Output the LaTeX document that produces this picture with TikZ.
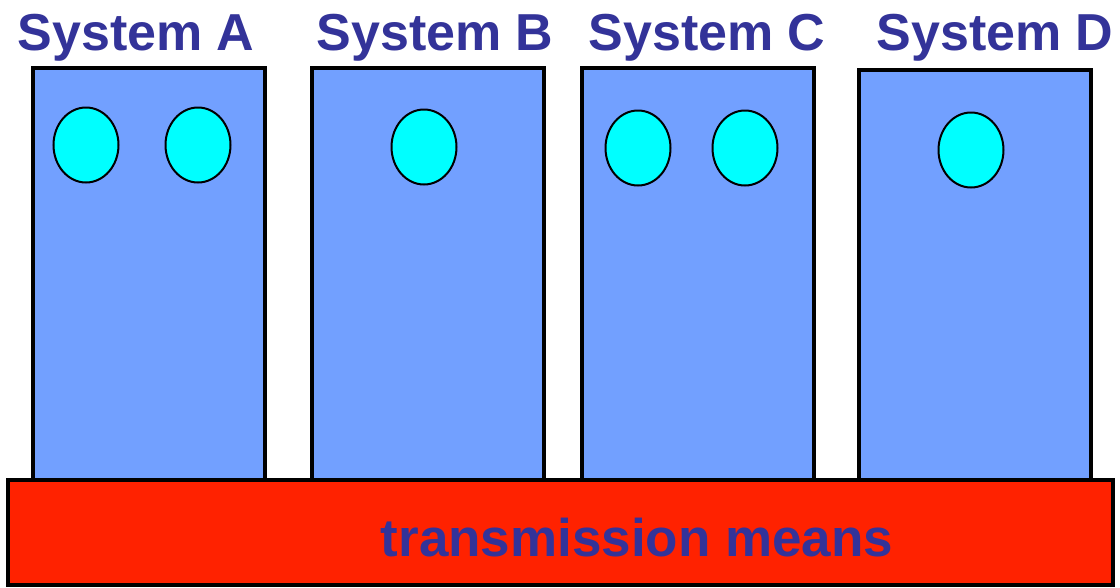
\documentclass[tikz,border=0pt]{standalone}
\usepackage{fontspec}
\setmainfont{Liberation Sans}
\usepackage{xcolor}
\usetikzlibrary{positioning,shapes.geometric}
\definecolor{sysfill}{HTML}{72A0FF}
\definecolor{portfill}{HTML}{00FFFF}
\definecolor{busfill}{HTML}{FF2200}
\definecolor{labink}{HTML}{333399}
\tikzset{
  sysbox/.style={draw=black,line width=4pt,fill=sysfill,anchor=north west,
    minimum width=232pt,minimum height=412pt,inner sep=0pt,outer sep=0pt},
  port/.style={ellipse,draw=black,line width=2pt,fill=portfill,
    minimum width=65pt,minimum height=75pt,inner sep=0pt},
  medium/.style={draw=black,line width=4pt,fill=busfill,anchor=north west,
    minimum width=1105pt,minimum height=105pt,inner sep=0pt,outer sep=0pt},
  syslabel/.style={anchor=base,text=labink,inner sep=0pt,
    font=\fontsize{52}{60}\selectfont\bfseries}
}
\begin{document}
\begin{tikzpicture}[x=1pt,y=-1pt]
 \useasboundingbox (0,0) rectangle (1120,587);
 % systems
 \node[sysbox] (sysA) at (33,68) {};
 \node[sysbox] (sysB) at (312,68) {};
 \node[sysbox] (sysC) at (582,68) {};
 \node[sysbox,minimum height=410pt] (sysD) at (859,70) {};
 \node[syslabel] (labA) at (136,50) {System A};
 \node[syslabel] (labB) at (435,50) {System B};
 \node[syslabel] (labC) at (707,50) {System C};
 \node[syslabel] (labD) at (995,50) {System D};
 % ports
 \node[port] (pA1) at (86,145) {};
 \node[port] (pA2) at (198,145) {};
 \node[port] (pB1) at (424,147) {};
 \node[port] (pC1) at (638,148) {};
 \node[port] (pC2) at (745,148) {};
 \node[port] (pD1) at (971,150) {};
 % transmission medium
 \node[medium] (bus) at (8,480) {};
 \node[syslabel,font=\fontsize{53}{60}\selectfont\bfseries] (busLab) at (637,556) {transmission means};
\end{tikzpicture}
\end{document}
